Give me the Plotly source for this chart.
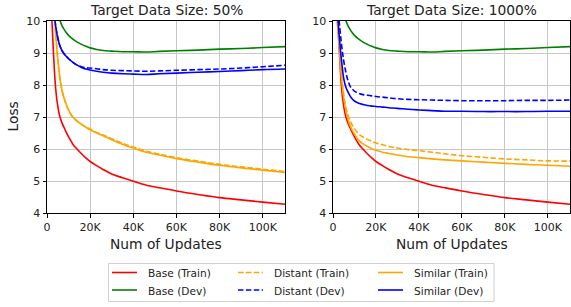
import plotly.graph_objects as go

# ---------------- data ----------------
updates = [1000, 2000, 3000, 4000, 5000, 6000, 7000, 8000, 9000, 10000,
           12000, 14000, 16000, 18000, 20000, 23000, 26000, 30000, 35000, 40000,
           46000, 52000, 60000, 70000, 80000, 90000, 100000, 111000]

base_train = [12.5, 10.4, 9.0, 7.9, 7.33, 7.0, 6.81, 6.66, 6.51, 6.38,
              6.15, 5.99, 5.85, 5.72, 5.61, 5.48, 5.36, 5.22, 5.1, 4.99,
              4.87, 4.79, 4.69, 4.58, 4.48, 4.41, 4.34, 4.27]
base_dev = [12.5, 11.7, 11.1, 10.65, 10.3, 10.02, 9.85, 9.73, 9.63, 9.55,
            9.43, 9.34, 9.27, 9.21, 9.16, 9.11, 9.08, 9.06, 9.04, 9.04,
            9.03, 9.05, 9.07, 9.09, 9.12, 9.14, 9.17, 9.2]

# Target Data Size: 50%
sim_train_50 = [13.0, 11.8, 10.6, 9.65, 8.8, 8.2, 7.82, 7.57, 7.38, 7.22,
                6.99, 6.87, 6.77, 6.68, 6.6, 6.5, 6.41, 6.29, 6.15, 6.03,
                5.9, 5.81, 5.7, 5.59, 5.49, 5.41, 5.34, 5.26]
dist_train_50 = [13.0, 11.8, 10.6, 9.65, 8.8, 8.2, 7.82, 7.57, 7.38, 7.22,
                 6.99, 6.87, 6.77, 6.69, 6.62, 6.52, 6.44, 6.32, 6.18, 6.06,
                 5.93, 5.84, 5.73, 5.62, 5.52, 5.44, 5.37, 5.29]
sim_dev_50 = [12.5, 11.3, 10.5, 9.85, 9.47, 9.22, 9.07, 8.97, 8.89, 8.82,
              8.71, 8.62, 8.55, 8.5, 8.47, 8.43, 8.4, 8.37, 8.35, 8.34,
              8.33, 8.35, 8.37, 8.4, 8.42, 8.45, 8.48, 8.5]
dist_dev_50 = [12.5, 11.3, 10.5, 9.85, 9.47, 9.22, 9.07, 8.97, 8.89, 8.82,
               8.71, 8.62, 8.57, 8.54, 8.53, 8.51, 8.48, 8.46, 8.45, 8.44,
               8.43, 8.44, 8.46, 8.48, 8.5, 8.53, 8.57, 8.62]

# Target Data Size: 1000%
sim_train_1000 = [12.0, 10.0, 9.1, 8.2, 7.6, 7.2, 6.92, 6.73, 6.58, 6.46,
                  6.27, 6.16, 6.08, 6.01, 5.96, 5.9, 5.86, 5.81, 5.76, 5.73,
                  5.69, 5.66, 5.63, 5.59, 5.55, 5.52, 5.49, 5.46]
dist_train_1000 = [12.0, 10.0, 9.15, 8.25, 7.7, 7.3, 7.05, 6.88, 6.74, 6.63,
                   6.47, 6.37, 6.3, 6.24, 6.19, 6.13, 6.08, 6.03, 5.98, 5.95,
                   5.9, 5.85, 5.79, 5.74, 5.69, 5.66, 5.63, 5.62]
sim_dev_1000 = [12.0, 10.4, 9.45, 8.75, 8.2, 7.93, 7.78, 7.65, 7.56, 7.5,
                7.43, 7.39, 7.36, 7.34, 7.33, 7.31, 7.29, 7.27, 7.24, 7.22,
                7.2, 7.18, 7.18, 7.17, 7.17, 7.17, 7.18, 7.18]
dist_dev_1000 = [12.0, 10.7, 9.9, 9.25, 8.75, 8.4, 8.13, 7.96, 7.87, 7.81,
                 7.74, 7.7, 7.68, 7.66, 7.64, 7.62, 7.6, 7.57, 7.55, 7.54,
                 7.53, 7.52, 7.51, 7.51, 7.51, 7.52, 7.52, 7.53]

x_tickvals = [0, 20000, 40000, 60000, 80000, 100000]
x_ticktext = ["0", "20K", "40K", "60K", "80K", "100K"]
y_tickvals = [4, 5, 6, 7, 8, 9, 10]
titles = ["Target Data Size: 50%", "Target Data Size: 1000%"]
x_label = "Num of Updates"
y_label = "Loss"

RED, GREEN, BLUE, ORANGE = "#ff0000", "#008000", "#0000ff", "#ffa500"
FONT = "DejaVu Sans"
DASH = "5.5px,2.4px"
W, H = 571, 307

fig = go.Figure()

panels = [
    ("x", "y", sim_train_50, dist_train_50, sim_dev_50, dist_dev_50),
    ("x2", "y2", sim_train_1000, dist_train_1000, sim_dev_1000, dist_dev_1000),
]

legend_specs = []
for i, (xa, ya, st, dt, sd, dd) in enumerate(panels):
    specs = [
        ("Base (Train)", base_train, RED, "solid"),
        ("Base (Dev)", base_dev, GREEN, "solid"),
        ("Distant (Train)", dt, ORANGE, DASH),
        ("Distant (Dev)", dd, BLUE, DASH),
        ("Similar (Train)", st, ORANGE, "solid"),
        ("Similar (Dev)", sd, BLUE, "solid"),
    ]
    if i == 0:
        legend_specs = [(n, c, d) for n, _, c, d in specs]
    for name, vals, col, dash in specs:
        fig.add_trace(go.Scatter(
            x=updates, y=vals, mode="lines", name=name,
            line=dict(color=col, width=1.6, dash=dash, shape="spline", smoothing=1.0),
            xaxis=xa, yaxis=ya, showlegend=False,
        ))

axis_common = dict(
    showline=True, linecolor="black", linewidth=1, mirror=True,
    ticks="outside", ticklen=3.5, tickwidth=1, tickcolor="black",
    showgrid=True, gridcolor="#c8c8c8", gridwidth=1, automargin=False,
    zeroline=False, tickfont=dict(family=FONT, size=11, color="#222"),
)
ydom = [1 - 213 / H, 1 - 21 / H]
fig.update_layout(
    width=W, height=H, margin=dict(l=0, r=0, t=0, b=0),
    plot_bgcolor="white", paper_bgcolor="white",
    font=dict(family=FONT, color="#222"),
    xaxis=dict(domain=[47 / W, 285 / W], range=[0, 110300], anchor="y",
               tickvals=x_tickvals, ticktext=x_ticktext, **axis_common),
    yaxis=dict(domain=ydom, range=[4, 10], anchor="x", tickvals=y_tickvals, **axis_common),
    xaxis2=dict(domain=[333 / W, 570 / W], range=[0, 110300], anchor="y2",
                tickvals=x_tickvals, ticktext=x_ticktext, **axis_common),
    yaxis2=dict(domain=ydom, range=[4, 10], anchor="x2", tickvals=y_tickvals, **axis_common),
    showlegend=False,
)

TFONT = dict(family=FONT, size=13.8, color="#222")
for t, (x0, x1) in zip(titles, [(47, 285), (333, 570)]):
    cx = (x0 + x1) / 2 / W
    fig.add_annotation(text=t, x=cx, y=1 - 10 / H, xref="paper", yref="paper",
                       showarrow=False, font=TFONT, xanchor="center", yanchor="middle")
    fig.add_annotation(text=x_label, x=cx, y=1 - 244 / H, xref="paper", yref="paper",
                       showarrow=False, font=TFONT, xanchor="center", yanchor="middle")
fig.add_annotation(text=y_label, x=12.5 / W, y=1 - 117 / H, xref="paper", yref="paper",
                   showarrow=False, font=TFONT, textangle=-90,
                   xanchor="center", yanchor="middle")

# legend frame (drawn manually to match the reference's compact 3-column layout)
fig.add_shape(type="rect", xref="paper", yref="paper",
              x0=108.5 / W, x1=494 / W, y0=1 - 301.5 / H, y1=1 - 263.5 / H,
              line=dict(color="#d0d0d0", width=1), fillcolor="white", layer="below")
col_x = [112, 238, 378]
row_y = [272.5, 290]
for k, (name, col, dash) in enumerate(legend_specs):
    cx, ry = col_x[k // 2], row_y[k % 2]
    fig.add_shape(type="line", xref="paper", yref="paper",
                  x0=cx / W, x1=(cx + 25) / W, y0=1 - ry / H, y1=1 - ry / H,
                  line=dict(color=col, width=1.6, dash=dash))
    fig.add_annotation(text=name, x=(cx + 34) / W, y=1 - (ry + 0.5) / H,
                       xref="paper", yref="paper", showarrow=False,
                       font=dict(family=FONT, size=10.6, color="#222"),
                       xanchor="left", yanchor="middle")

fig.write_html("out.html", config={"displayModeBar": False},
               post_script="document.body.style.margin='0';document.body.style.overflow='hidden';")
